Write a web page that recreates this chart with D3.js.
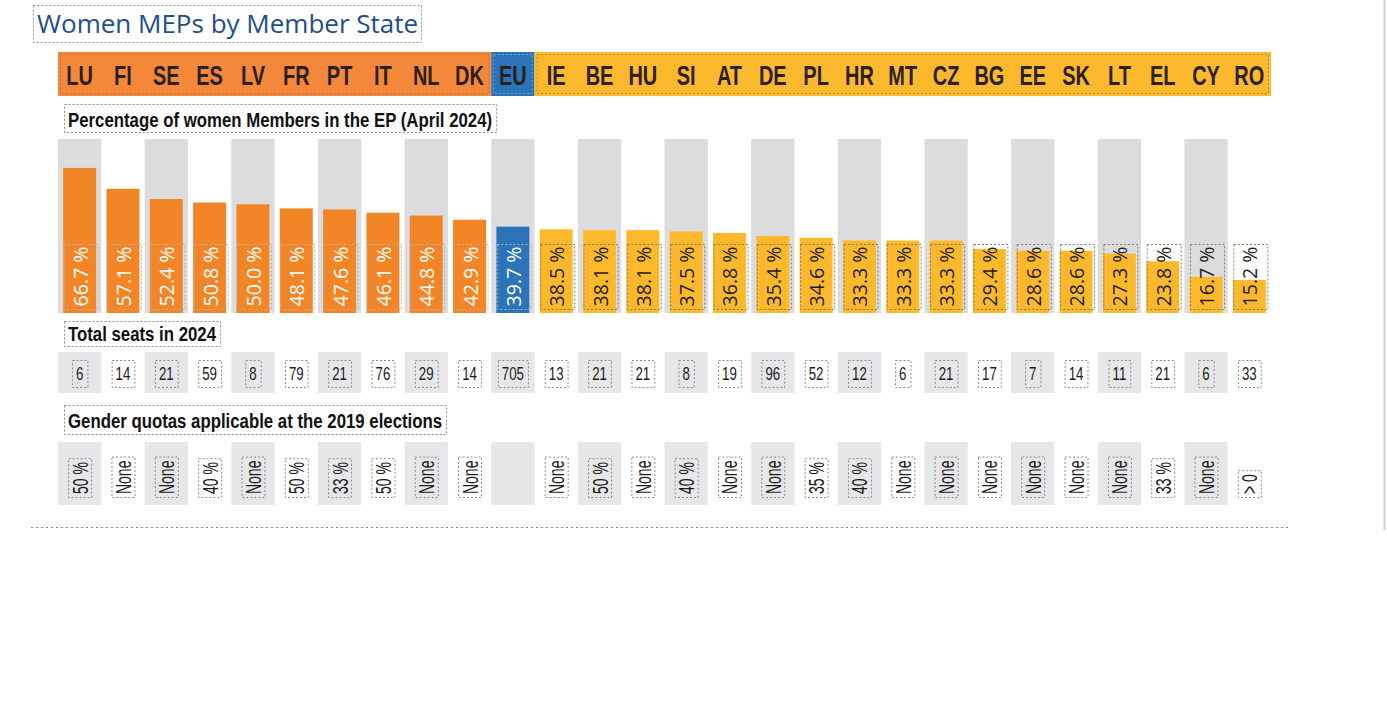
<!DOCTYPE html>
<html>
<head>
<meta charset="utf-8">
<script src="https://cdn.jsdelivr.net/npm/d3@7"></script>
<style>
  html, body { margin: 0; padding: 0; background: #fff; }
  svg { display: block; }
</style>
</head>
<body>
<svg id="chart" width="1387" height="721"></svg>
<script>
// ---- Data ----
const countries = ["LU","FI","SE","ES","LV","FR","PT","IT","NL","DK","EU","IE","BE","HU","SI","AT","DE","PL","HR","MT","CZ","BG","EE","SK","LT","EL","CY","RO"];
const womenPct = [66.7,57.1,52.4,50.8,50.0,48.1,47.6,46.1,44.8,42.9,39.7,38.5,38.1,38.1,37.5,36.8,35.4,34.6,33.3,33.3,33.3,29.4,28.6,28.6,27.3,23.8,16.7,15.2];
const totalSeats = [6,14,21,59,8,79,21,76,29,14,705,13,21,21,8,19,96,52,12,6,21,17,7,14,11,21,6,33];
const genderQuotas = ["50 %","None","None","40 %","None","50 %","33 %","50 %","None","None","","None","50 %","None","40 %","None","None","35 %","40 %","None","None","None","None","None","None","33 %","None","> 0"];
const titleText = "Women MEPs by Member State";
const sectionTitles = ["Percentage of women Members in the EP (April 2024)", "Total seats in 2024", "Gender quotas applicable at the 2019 elections"];

// ---- Styles ----
const COL = { above: "#F28627", eu: "#2B74BA", below: "#FDB92B" };
const HEAD = { above: "#F4883A", eu: "#2B74BA", below: "#FDB92E" };
const grayBar = "#DCDCDE", grayRow = "#E7E7E9";
const narrow = "'Liberation Sans', Arial, sans-serif";
const euIdx = countries.indexOf("EU");
const group = (i) => i < euIdx ? "above" : (i === euIdx ? "eu" : "below");

const svg = d3.select("#chart");

// ---- Scales ----
const x = d3.scaleBand().domain(countries).range([58, 1271]).paddingInner(0).paddingOuter(0);
const bw = x.bandwidth();
const y = d3.scaleLinear().domain([0, 80]).range([313, 139]);

function dashedRect(sel, x0, y0, w, h) {
  return sel.append("rect").attr("x", x0 + 0.5).attr("y", y0 + 0.5).attr("width", w).attr("height", h)
    .attr("fill", "none").attr("stroke", "#8a8a8a").attr("stroke-width", 1).attr("stroke-dasharray", "2,2");
}
// condensed text: horizontal scale in its reading direction
function condText(sel, tx, ty, rot, sx, size, weight, anchor, txt, fill) {
  const t = sel.append("text")
    .attr("transform", `translate(${tx},${ty}) rotate(${rot}) scale(${sx},1)`)
    .attr("text-anchor", anchor)
    .attr("font-family", narrow).attr("font-weight", weight).attr("font-size", size)
    .attr("fill", fill).text(txt);
  return { node: t, len: t.node().getComputedTextLength() * sx };
}

// ---- Title ----
svg.append("text").attr("x", 37).attr("y", 33).text(titleText)
  .attr("font-family", "'Open Sans', sans-serif").attr("font-size", 26).attr("fill", "#1E4E8A");
dashedRect(svg, 33, 5, 388, 37);

// ---- Header band ----
const segs = [
  { g: "above", from: 0, to: euIdx - 1 },
  { g: "eu", from: euIdx, to: euIdx },
  { g: "below", from: euIdx + 1, to: countries.length - 1 }
];
segs.forEach(s => {
  const x0 = x(countries[s.from]), x1 = x(countries[s.to]) + bw;
  svg.append("rect").attr("x", x0).attr("y", 52).attr("width", x1 - x0).attr("height", 44).attr("fill", HEAD[s.g]);
  svg.append("rect").attr("x", x0 + 2.5).attr("y", 54.5).attr("width", x1 - x0 - 5).attr("height", 39)
    .attr("fill", "none").attr("stroke", s.g === "eu" ? "#9fc0e0" : "#a0702a").attr("stroke-opacity", 0.6)
    .attr("stroke-dasharray", "2,2");
});
const gHead = svg.append("g");
countries.forEach(c => condText(gHead, x(c) + bw / 2, 85, 0, 0.74, 27, "bold", "middle", c, "#2A2015"));

// ---- Section titles ----
function sectionTitle(txt, x0, yBase, yBox, hBox) {
  const r = condText(svg, x0 + 4, yBase, 0, 0.8, 21, "bold", "start", txt, "#111");
  dashedRect(svg, x0, yBox, r.len + 8, hBox);
}
sectionTitle(sectionTitles[0], 64, 127, 104, 28);
sectionTitle(sectionTitles[1], 64, 341, 321, 25);
sectionTitle(sectionTitles[2], 64, 428, 405, 29);

// ---- Percentage bars ----
const gBars = svg.append("g");
gBars.selectAll("rect.bg").data(countries.filter((d, i) => i % 2 === 0)).join("rect")
  .attr("class", "bg").attr("x", d => x(d)).attr("y", y(80)).attr("width", bw).attr("height", y(0) - y(80))
  .attr("fill", grayBar);
const barW = 33;
gBars.selectAll("rect.bar").data(womenPct).join("rect")
  .attr("class", "bar")
  .attr("x", (d, i) => x(countries[i]) + bw / 2 - barW / 2)
  .attr("y", d => y(d)).attr("width", barW).attr("height", d => y(0) - y(d))
  .attr("fill", (d, i) => COL[group(i)]);
womenPct.forEach((v, i) => {
  const cx = x(countries[i]) + bw / 2 + 1;
  const boxW = 34, boxTop = 244, boxH = 65;
  dashedRect(gBars, cx - boxW / 2, boxTop, boxW, boxH).attr("stroke", group(i) === "below" ? "#8a7a60" : "#b0b0b0");
  const cy = boxTop + boxH / 2;
  gBars.append("text")
    .attr("transform", `translate(${cx + 7},${cy}) rotate(-90)`)
    .attr("text-anchor", "middle")
    .attr("font-family", "'Open Sans', sans-serif").attr("font-size", 19.5)
    .attr("fill", group(i) === "below" ? "#231f1a" : "#ffffff")
    .text(d3.format(".1f")(v) + " %");
});

// ---- Total seats row ----
const gSeats = svg.append("g");
gSeats.selectAll("rect").data(countries.filter((d, i) => i % 2 === 0)).join("rect")
  .attr("x", d => x(d)).attr("y", 352).attr("width", bw).attr("height", 41).attr("fill", grayRow);
totalSeats.forEach((v, i) => {
  const cx = x(countries[i]) + bw / 2;
  const r = condText(gSeats, cx, 380, 0, 0.7, 19, "normal", "middle", v, "#1c1c1c");
  dashedRect(gSeats, cx - r.len / 2 - 4, 360, r.len + 8, 27);
});

// ---- Gender quotas row ----
const gQ = svg.append("g");
gQ.selectAll("rect").data(countries.filter((d, i) => i % 2 === 0)).join("rect")
  .attr("x", d => x(d)).attr("y", 442).attr("width", bw).attr("height", 63).attr("fill", grayRow);
genderQuotas.forEach((q, i) => {
  if (!q) return;
  const cx = x(countries[i]) + bw / 2;
  const bottom = 494;
  const r = condText(gQ, cx + 8, bottom, -90, 0.65, 21.5, "normal", "start", q, "#1c1c1c");
  dashedRect(gQ, cx - 11.5, bottom - r.len - 4, 23, r.len + 7);
});

// ---- Bottom separator & right edge ----
svg.append("line").attr("x1", 31).attr("x2", 1291).attr("y1", 527.5).attr("y2", 527.5)
  .attr("stroke", "#888").attr("stroke-dasharray", "2,3");
svg.append("line").attr("x1", 1384.5).attr("x2", 1384.5).attr("y1", 0).attr("y2", 530)
  .attr("stroke", "#d0d0d0").attr("stroke-width", 2);
</script>
</body>
</html>
